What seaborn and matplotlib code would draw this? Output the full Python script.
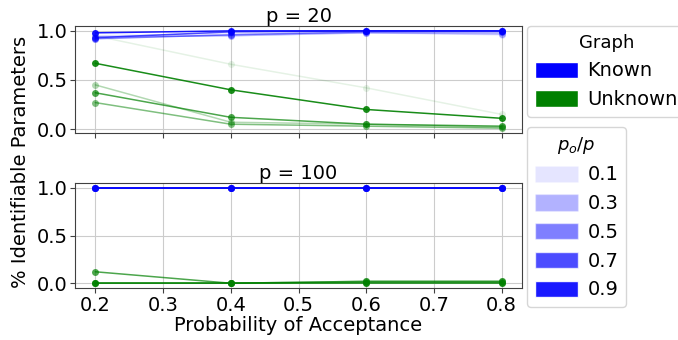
import numpy as np
import pandas as pd
import seaborn as sns
import matplotlib.pyplot as plt
from matplotlib.patches import Patch

# Acceptance probabilities on the x axis
accept = [0.2, 0.4, 0.6, 0.8]
ratios = [0.1, 0.3, 0.5, 0.7, 0.9]

# p = 20: share of identifiable parameters, per observed fraction p_o/p
known_20 = {
    0.1: [0.95, 0.97, 0.98, 0.96],
    0.3: [0.94, 0.95, 0.98, 0.97],
    0.5: [0.92, 0.96, 0.99, 0.99],
    0.7: [0.93, 0.99, 1.00, 1.00],
    0.9: [0.98, 1.00, 1.00, 1.00],
}
unknown_20 = {
    0.1: [0.95, 0.66, 0.42, 0.15],
    0.3: [0.45, 0.07, 0.05, 0.02],
    0.5: [0.27, 0.05, 0.03, 0.01],
    0.7: [0.37, 0.12, 0.05, 0.03],
    0.9: [0.67, 0.40, 0.20, 0.11],
}

# p = 100
known_100 = {r: [1.00, 1.00, 1.00, 1.00] for r in ratios}
unknown_100 = {
    0.1: [0.00, 0.00, 0.00, 0.00],
    0.3: [0.00, 0.00, 0.02, 0.02],
    0.5: [0.00, 0.00, 0.01, 0.01],
    0.7: [0.12, 0.00, 0.02, 0.02],
    0.9: [0.00, 0.00, 0.00, 0.00],
}

colors = {"Known": "#0000ff", "Unknown": "#008000"}


def to_frame(known, unknown):
    rows = []
    for graph, table in (("Known", known), ("Unknown", unknown)):
        for r in ratios:
            for x, y in zip(accept, table[r]):
                rows.append({"accept": x, "value": y, "Graph": graph, "ratio": r})
    return pd.DataFrame(rows)


panels = [("p = 20", to_frame(known_20, unknown_20)),
          ("p = 100", to_frame(known_100, unknown_100))]

sns.set_style("ticks", {"axes.grid": True, "grid.color": ".8",
                        "axes.edgecolor": ".25", "text.color": "black",
                        "axes.labelcolor": "black", "xtick.color": "black",
                        "ytick.color": "black"})
plt.rcParams["font.family"] = ["DejaVu Sans"]

fig = plt.figure(figsize=(6.78, 3.4), dpi=100)
ax_top = fig.add_axes([75 / 678, 1 - 133 / 340, 447 / 678, 107 / 340])
ax_bot = fig.add_axes([75 / 678, 1 - 288 / 340, 447 / 678, 105 / 340], sharex=ax_top)

for ax, (title, df) in zip([ax_top, ax_bot], panels):
    for graph in ("Unknown", "Known"):
        for r in ratios:
            sub = df[(df["Graph"] == graph) & (df["ratio"] == r)]
            sns.lineplot(data=sub, x="accept", y="value", ax=ax,
                         color=colors[graph], alpha=r, marker="o",
                         markersize=5, markeredgewidth=0, linewidth=1.1,
                         legend=False)
    ax.set_title(title, fontsize=14, pad=2)
    ax.set_xlabel("")
    ax.set_ylabel("")
    ax.set_yticks([0.0, 0.5, 1.0])
    ax.set_xticks([0.2, 0.3, 0.4, 0.5, 0.6, 0.7, 0.8])
    ax.tick_params(labelsize=14, length=3.5, color=".25", pad=2)
    ax.grid(True, color=".8", linewidth=0.8)

ax_top.tick_params(labelbottom=False)
ax_bot.set_xlabel("Probability of Acceptance", fontsize=14, labelpad=1)
fig.text(0.03, 0.524, "% Identifiable Parameters", rotation=90,
         ha="center", va="center", fontsize=14)

graph_handles = [Patch(facecolor=colors[g], label=g) for g in ("Known", "Unknown")]
leg1 = fig.legend(handles=graph_handles, title="Graph", loc="upper left",
                  bbox_to_anchor=(527 / 678, 1 - 26 / 340), fontsize=14,
                  title_fontsize=13, frameon=True, borderaxespad=0,
                  handlelength=2.2, handleheight=0.9, handletextpad=0.5)
ratio_handles = [Patch(facecolor=colors["Known"], alpha=r, label=str(r)) for r in ratios]
leg2 = fig.legend(handles=ratio_handles, title=r"$p_o/p$", loc="upper left",
                  bbox_to_anchor=(527 / 678, 1 - 127 / 340), fontsize=14,
                  title_fontsize=13, frameon=True, borderaxespad=0,
                  handlelength=2.2, handleheight=0.9, handletextpad=0.5)

fig.savefig("out.png", dpi=100)
